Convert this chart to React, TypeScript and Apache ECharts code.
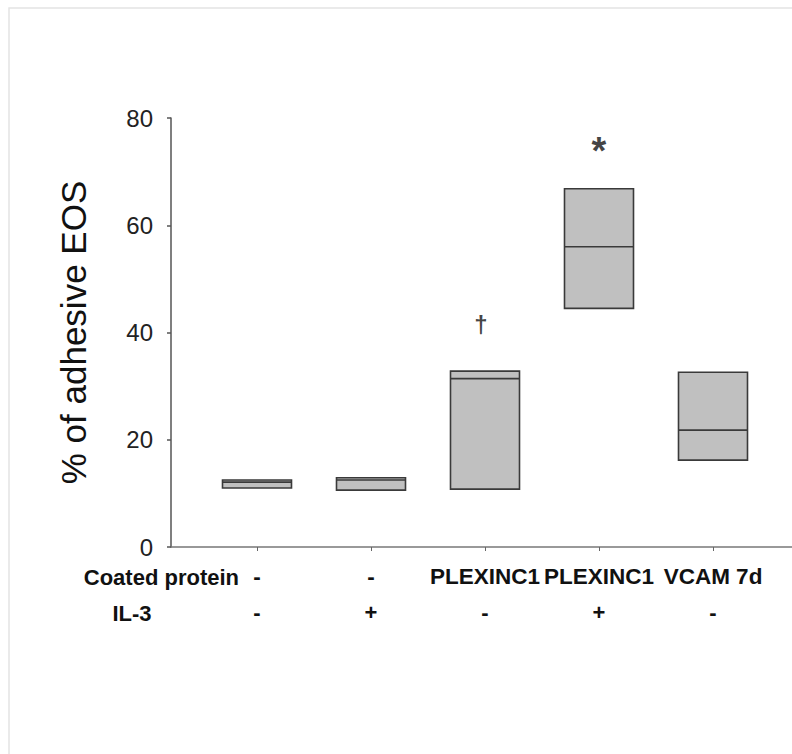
import React, { useEffect, useRef } from "react";
import * as echarts from "echarts";

const coatedProtein = ["-", "-", "PLEXINC1", "PLEXINC1", "VCAM 7d"];
const il3 = ["-", "+", "-", "+", "-"];
// [min, Q1, median, Q3, max]
const q1 = [11.0, 10.6, 10.8, 44.5, 16.2];
const median = [12.1, 12.5, 31.4, 56.0, 21.8];
const q3 = [12.5, 12.9, 32.8, 66.8, 32.6];
const yTicks = [0, 20, 40, 60, 80];
const marks = [
  { idx: 2, y: 41.5, text: "†" },
  { idx: 3, y: 73.8, text: "*" },
];

export default function App() {
  const ref = useRef<HTMLDivElement>(null);
  useEffect(() => {
    if (!ref.current) return;
    const chart = echarts.init(ref.current, null, { renderer: "svg" });
    const font = "Liberation Sans, Arial, sans-serif";
    chart.setOption({
      animation: false,
      backgroundColor: "#ffffff",
      textStyle: { fontFamily: font },
      graphic: [
        {
          type: "rect",
          shape: { x: 9, y: 8, width: 820, height: 820 },
          style: { fill: "none", stroke: "#e4e4e4", lineWidth: 1.5 },
          silent: true,
        },
        {
          type: "text",
          x: 239,
          y: 577,
          style: {
            text: "Coated protein",
            fontSize: 22,
            fontWeight: "bold",
            fontFamily: font,
            fill: "#111",
            textAlign: "right",
            textVerticalAlign: "middle",
          },
        },
        {
          type: "text",
          x: 132,
          y: 613,
          style: {
            text: "IL-3",
            fontSize: 22,
            fontWeight: "bold",
            fontFamily: font,
            fill: "#111",
            textAlign: "center",
            textVerticalAlign: "middle",
          },
        },
      ],
      grid: [
        { left: 171, top: 118, height: 429, width: 640, containLabel: false },
        { left: 200, top: 118, height: 429, width: 570, containLabel: false },
      ],
      xAxis: [
        {
          type: "value",
          gridIndex: 0,
          min: 0,
          max: 1,
          axisLine: { show: true, lineStyle: { color: "#777", width: 1.5 } },
          axisTick: { show: false },
          axisLabel: { show: false },
          splitLine: { show: false },
        },
        {
          type: "category",
          gridIndex: 1,
          data: coatedProtein.map((_, i) => String(i)),
          boundaryGap: true,
          axisLine: { show: false },
          axisTick: {
            show: true,
            alignWithLabel: true,
            length: 4,
            lineStyle: { color: "#666", width: 1 },
          },
          axisLabel: {
            interval: 0,
            margin: 11,
            formatter: (_v: string, i: number) => `{a|${coatedProtein[i]}}\n{b|${il3[i]}}`,
            rich: {
              a: { fontSize: 22.5, fontWeight: "bold", color: "#111", lineHeight: 36, fontFamily: font },
              b: { fontSize: 22, fontWeight: "bold", color: "#111", lineHeight: 36, fontFamily: font },
            },
          },
          splitLine: { show: false },
        },
      ],
      yAxis: [
        {
          type: "value",
          gridIndex: 0,
          min: yTicks[0],
          max: yTicks[yTicks.length - 1],
          interval: 20,
          name: "% of adhesive EOS",
          nameLocation: "middle",
          nameRotate: 90,
          nameGap: 80,
          nameTextStyle: { fontSize: 35, color: "#111", fontFamily: font },
          axisLine: { show: true, lineStyle: { color: "#555", width: 1.5 } },
          axisTick: { show: true, length: 4, lineStyle: { color: "#555", width: 1.5 } },
          axisLabel: { fontSize: 24, color: "#222", margin: 18, fontFamily: font },
          splitLine: { show: false },
        },
        {
          type: "value",
          gridIndex: 1,
          min: 0,
          max: 80,
          show: false,
          splitLine: { show: false },
        },
      ],
      series: [
        {
          type: "boxplot",
          xAxisIndex: 1,
          yAxisIndex: 1,
          boxWidth: [69, 69],
          itemStyle: { color: "#c0c0c0", borderColor: "#3a3a3a", borderWidth: 1.6 },
          data: q1.map((v, i) => [v, v, median[i], q3[i], q3[i]]),
        },
        {
          type: "scatter",
          xAxisIndex: 1,
          yAxisIndex: 1,
          symbolSize: 0,
          data: marks.map((m) => ({
            value: [m.idx, m.y],
            label: {
              show: true,
              position: "inside",
              offset: m.text === "*" ? [0, 0] : [-4, 0],
              formatter: m.text,
              fontSize: m.text === "*" ? 38 : 24,
              fontWeight: "bold",
              color: "#111",
              fontFamily: font,
            },
          })),
        },
      ],
    });
    return () => chart.dispose();
  }, []);
  return (
    <div
      ref={ref}
      style={{ position: "fixed", left: 0, top: 0, width: 792, height: 754 }}
    />
  );
}
